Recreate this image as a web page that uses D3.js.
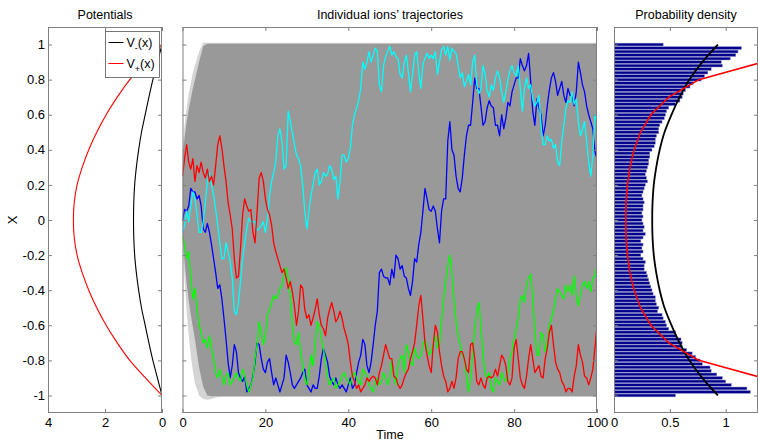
<!DOCTYPE html>
<html><head><meta charset="utf-8">
<script src="https://cdn.jsdelivr.net/npm/d3@7"></script>
<style>
body{margin:0;background:#fff}
svg text{font-family:Arial,"Liberation Sans",Helvetica,sans-serif;fill:#000}
</style>
</head><body>
<svg id="chart" width="758" height="442"></svg>
<script>
// ---------------- DATA ----------------
const yTicks = [-1,-0.8,-0.6,-0.4,-0.2,0,0.2,0.4,0.6,0.8,1];
const yTickLabels = ["-1","-0.8","-0.6","-0.4","-0.2","0","0.2","0.4","0.6","0.8","1"];
const potTicks = [4,2,0];
const potTickLabels = ["4","2","0"];
const timeTicks = [0,20,40,60,80,100];
const timeTickLabels = ["0","20","40","60","80","100"];
const densTicks = [0,0.5,1];
const densTickLabels = ["0","0.5","1"];

// Potentials panel
const potX = [-1,-0.9,-0.8,-0.7,-0.6,-0.5,-0.4,-0.3,-0.2,-0.1,0,0.1,0.2,0.3,0.4,0.5,0.6,0.7,0.8,0.9,1];
const vMinus = [0,0.16,0.32,0.46,0.59,0.72,0.82,0.90,0.96,0.99,1.0,0.99,0.96,0.90,0.82,0.72,0.59,0.46,0.32,0.16,0];
const vPlus  = [0,0.58,1.13,1.57,1.96,2.29,2.57,2.80,2.98,3.08,3.11,3.08,2.98,2.80,2.57,2.29,1.96,1.57,1.13,0.58,0];

// Trajectory cloud envelope (gray ensemble)
const cloudTime = [0,0.5,1,1.5,2,2.5,3,4,5,6,7,8,10,100];
const darkTop  = [0.36,0.47,0.56,0.63,0.69,0.75,0.80,0.90,0.99,1.005,1.005,1.005,1.005,1.005];
const darkBot  = [-0.08,-0.24,-0.36,-0.46,-0.54,-0.61,-0.68,-0.84,-0.95,-1.0,-1.005,-1.005,-1.005,-1.005];
const lightTop = [0.40,0.54,0.64,0.72,0.78,0.84,0.88,0.96,1.012,1.01,1.01,1.01,1.01,1.01];
const lightBot = [-0.12,-0.34,-0.52,-0.66,-0.77,-0.86,-0.93,-1.0,-1.02,-1.025,-1.02,-1.012,-1.008,-1.008];

// Individual trajectories, sampled every 0.5 time units, t = 0..100
const trajTime = d3.range(0, 100.001, 0.5);
const trajRed = [
0.25,0.35,0.43,0.33,0.29,0.35,0.22,0.31,0.27,0.33,0.27,0.24,0.29,0.22,0.25,0.20,0.31,0.43,0.48,0.41,
0.31,0.22,0.10,0.03,-0.05,-0.22,-0.33,-0.32,-0.16,0.03,0.12,0.08,0.05,0.06,-0.07,-0.13,0.05,0.24,0.27,0.22,
0.12,0.06,0.03,-0.03,-0.13,-0.18,-0.22,-0.26,-0.30,-0.28,-0.33,-0.39,-0.35,-0.41,-0.49,-0.60,-0.52,-0.37,-0.39,-0.51,
-0.56,-0.54,-0.60,-0.56,-0.51,-0.45,-0.54,-0.60,-0.62,-0.66,-0.56,-0.51,-0.47,-0.52,-0.58,-0.56,-0.52,-0.56,-0.62,-0.66,
-0.71,-0.81,-0.89,-0.92,-0.96,-0.94,-0.98,-0.96,-0.94,-0.90,-0.92,-0.90,-0.89,-0.90,-0.94,-0.87,-0.83,-0.77,-0.71,-0.75,
-0.79,-0.79,-0.89,-0.90,-0.94,-0.96,-0.94,-0.90,-0.87,-0.85,-0.79,-0.75,-0.70,-0.60,-0.49,-0.43,-0.56,-0.70,-0.77,-0.83,
-0.87,-0.71,-0.60,-0.64,-0.75,-0.83,-0.89,-0.92,-0.98,-0.96,-0.92,-0.96,-0.90,-0.79,-0.75,-0.75,-0.79,-0.85,-0.87,-0.71,
-0.70,-0.79,-0.92,-0.94,-0.90,-0.94,-0.96,-0.90,-0.89,-0.90,-0.89,-0.85,-0.89,-0.83,-0.77,-0.79,-0.83,-0.92,-0.94,-0.90,
-0.73,-0.68,-0.79,-0.90,-0.94,-0.96,-0.89,-0.79,-0.71,-0.79,-0.87,-0.85,-0.83,-0.89,-0.90,-0.79,-0.73,-0.64,-0.60,-0.71,
-0.81,-0.85,-0.87,-0.92,-0.94,-0.98,-0.96,-0.96,-0.98,-0.89,-0.83,-0.71,-0.77,-0.81,-0.89,-0.90,-0.94,-0.90,-0.85,-0.73,
-0.60];
const trajBlue = [
0.00,0.06,0.05,0.08,0.18,0.16,0.16,0.12,0.14,0.08,-0.05,-0.07,-0.02,-0.07,-0.14,-0.22,-0.30,-0.39,-0.37,-0.45,
-0.56,-0.68,-0.81,-0.90,-0.83,-0.71,-0.75,-0.87,-0.90,-0.92,-0.89,-0.98,-0.96,-0.94,-0.89,-0.81,-0.70,-0.71,-0.79,-0.85,
-0.87,-0.81,-0.79,-0.87,-0.94,-0.90,-0.94,-0.98,-0.94,-0.90,-0.77,-0.81,-0.87,-0.94,-0.96,-0.94,-0.92,-0.90,-0.87,-0.85,
-0.94,-0.96,-0.98,-0.94,-0.96,-0.96,-0.89,-0.79,-0.73,-0.77,-0.81,-0.89,-0.92,-0.94,-0.90,-0.94,-0.96,-0.94,-0.96,-0.98,
-0.94,-0.90,-0.96,-0.94,-0.87,-0.81,-0.77,-0.68,-0.71,-0.83,-0.87,-0.81,-0.71,-0.60,-0.52,-0.30,-0.28,-0.32,-0.33,-0.33,
-0.37,-0.28,-0.33,-0.20,-0.22,-0.28,-0.26,-0.32,-0.33,-0.39,-0.43,-0.35,-0.22,-0.24,-0.14,-0.07,0.05,0.18,0.12,0.06,
0.05,0.08,0.05,-0.05,-0.13,0.05,0.12,0.12,0.45,0.56,0.40,0.37,0.25,0.18,0.16,0.24,0.37,0.48,0.54,0.54,
0.67,0.81,0.75,0.75,0.65,0.54,0.56,0.64,0.68,0.65,0.64,0.54,0.54,0.48,0.60,0.52,0.58,0.67,0.65,0.73,
0.77,0.81,0.81,0.92,0.88,0.85,0.88,0.95,0.79,0.62,0.54,0.69,0.64,0.60,0.48,0.54,0.65,0.74,0.81,0.84,
0.79,0.71,0.75,0.79,0.71,0.67,0.75,0.71,0.71,0.65,0.73,0.90,0.84,0.77,0.73,0.65,0.60,0.56,0.52,0.39,
0.35];
const trajCyan = [
-0.07,-0.03,0.05,-0.01,0.08,0.16,0.12,0.03,-0.07,-0.07,-0.01,0.10,0.22,0.27,0.20,0.14,0.06,-0.03,-0.13,-0.22,
-0.22,-0.13,-0.18,-0.24,-0.33,-0.52,-0.54,-0.47,-0.35,-0.22,-0.13,-0.05,0.01,-0.01,-0.01,-0.01,-0.06,-0.05,-0.03,-0.01,
-0.07,0.01,0.14,0.22,0.27,0.33,0.48,0.52,0.45,0.29,0.31,0.62,0.56,0.50,0.43,0.37,0.35,0.31,0.20,0.05,
-0.05,0.05,0.14,0.20,0.27,0.29,0.20,0.22,0.27,0.25,0.26,0.31,0.29,0.23,0.25,0.12,0.22,0.37,0.37,0.33,
0.35,0.41,0.54,0.60,0.64,0.68,0.75,0.90,0.86,0.90,0.96,0.90,0.94,0.98,0.96,0.77,0.73,0.88,0.93,0.96,
0.99,0.94,0.96,0.93,0.92,0.83,0.81,0.90,0.94,0.84,0.73,0.83,0.94,0.96,0.84,0.75,0.89,0.92,0.95,0.92,
0.94,0.92,0.96,0.83,0.90,0.97,0.99,0.94,0.99,0.91,0.98,0.96,0.95,0.88,0.81,0.84,0.76,0.79,0.83,0.77,
0.90,0.94,0.77,0.72,0.75,0.88,0.83,0.74,0.70,0.77,0.74,0.81,0.85,0.81,0.73,0.67,0.73,0.80,0.85,0.88,
0.84,0.82,0.88,0.75,0.62,0.75,0.81,0.75,0.77,0.69,0.65,0.67,0.71,0.54,0.43,0.43,0.48,0.45,0.46,0.41,
0.43,0.33,0.31,0.45,0.54,0.64,0.68,0.67,0.73,0.66,0.69,0.56,0.48,0.52,0.56,0.45,0.33,0.25,0.37,0.60,
0.56];
const trajGreen = [
-0.09,-0.14,-0.22,-0.18,-0.33,-0.45,-0.39,-0.51,-0.60,-0.64,-0.70,-0.68,-0.73,-0.66,-0.73,-0.79,-0.87,-0.90,-0.85,-0.89,
-0.94,-0.89,-0.87,-0.94,-0.92,-0.90,-0.87,-0.90,-0.92,-0.85,-0.89,-0.94,-0.98,-0.94,-0.90,-0.79,-0.71,-0.58,-0.64,-0.71,
-0.66,-0.54,-0.51,-0.47,-0.43,-0.45,-0.43,-0.39,-0.37,-0.32,-0.27,-0.33,-0.43,-0.60,-0.70,-0.71,-0.64,-0.75,-0.83,-0.90,
-0.94,-0.87,-0.77,-0.83,-0.71,-0.58,-0.60,-0.68,-0.73,-0.81,-0.90,-0.94,-0.92,-0.90,-0.96,-0.94,-0.92,-0.89,-0.87,-0.90,
-0.92,-0.94,-0.89,-0.87,-0.90,-0.92,-0.94,-0.85,-0.87,-0.89,-0.94,-0.96,-0.98,-0.92,-0.90,-0.94,-0.92,-0.87,-0.90,-0.94,
-0.90,-0.79,-0.89,-0.94,-0.83,-0.79,-0.77,-0.87,-0.71,-0.75,-0.81,-0.83,-0.73,-0.77,-0.79,-0.77,-0.71,-0.68,-0.73,-0.77,
-0.75,-0.70,-0.66,-0.73,-0.71,-0.58,-0.45,-0.35,-0.26,-0.20,-0.30,-0.45,-0.58,-0.66,-0.71,-0.77,-0.79,-0.89,-0.98,-0.90,
-0.77,-0.62,-0.52,-0.47,-0.60,-0.77,-0.87,-0.90,-0.87,-0.96,-0.98,-0.90,-0.92,-0.94,-0.87,-0.90,-0.92,-0.87,-0.79,-0.75,
-0.68,-0.62,-0.56,-0.45,-0.43,-0.47,-0.37,-0.33,-0.31,-0.43,-0.64,-0.77,-0.77,-0.64,-0.66,-0.75,-0.70,-0.60,-0.56,-0.52,
-0.45,-0.39,-0.41,-0.43,-0.45,-0.37,-0.41,-0.37,-0.43,-0.32,-0.43,-0.49,-0.43,-0.37,-0.35,-0.39,-0.35,-0.41,-0.33,-0.32,
-0.26];

// Probability density histogram (bins from x = 1 down to x = -1, step 0.02)
const histCenters = d3.range(101).map(i => +(1 - i*0.02).toFixed(2));
const histValues = [
0.44,1.14,1.11,1.09,1.04,0.96,0.97,0.87,0.84,0.81,0.78,0.71,0.68,0.64,0.62,0.61,0.59,0.55,0.49,0.47,
0.46,0.45,0.43,0.41,0.40,0.40,0.38,0.37,0.37,0.36,0.34,0.32,0.32,0.31,0.31,
0.30,0.29,0.28,0.29,0.30,0.28,0.27,0.26,0.25,0.26,0.27,0.26,0.26,0.25,0.26,0.25,0.26,0.27,0.26,0.28,
0.26,0.24,0.26,0.25,0.26,0.24,0.26,0.28,0.27,0.27,
0.29,0.30,0.31,0.32,0.33,0.34,0.35,0.37,0.37,0.38,0.40,0.39,0.43,0.44,0.46,0.47,0.49,0.55,0.56,0.60,
0.61,0.61,0.65,0.70,0.73,0.77,0.79,0.86,0.87,0.92,0.97,1.00,1.05,1.19,1.22,0.55];
const densX = potX;
const densBlack = [0.93,0.79,0.675,0.587,0.515,0.452,0.409,0.378,0.356,0.345,0.342,0.345,0.356,0.378,0.409,0.452,0.515,0.587,0.675,0.79,0.93];
const densRed   = [2.36,1.33,0.76,0.49,0.33,0.237,0.18,0.143,0.12,0.108,0.105,0.108,0.12,0.143,0.18,0.237,0.33,0.49,0.76,1.33,2.36];

// ---------------- LAYOUT ----------------
const svg = d3.select("#chart");
const TOP = 27, BOT = 413;
const axisColor = "#808080";
const y = d3.scaleLinear().domain([-1.1, 1.1]).range([BOT, TOP]);
const xPot = d3.scaleLinear().domain([4, 0]).range([48, 162]);
const xT = d3.scaleLinear().domain([0, 100]).range([182.5, 597]);
const xD = d3.scaleLinear().domain([0, 1.289]).range([614, 758]);

const defs = svg.append("defs");
function clip(id, xs){
  defs.append("clipPath").attr("id", id).append("rect")
    .attr("x", xs.range()[0]).attr("y", TOP)
    .attr("width", xs.range()[1]-xs.range()[0]).attr("height", BOT-TOP);
  return "url(#"+id+")";
}

function frame(xs, xt, xl, showY){
  const g = svg.append("g");
  const x0 = xs.range()[0], x1 = xs.range()[1];
  const fmtY = d => showY ? yTickLabels[yTicks.indexOf(d)] : "";
  const fmtX = d => xl[xt.indexOf(d)];
  g.append("g").attr("transform", `translate(${x0},0)`)
    .call(d3.axisLeft(y).tickValues(yTicks).tickSizeInner(-4).tickSizeOuter(0).tickPadding(3).tickFormat(fmtY));
  g.append("g").attr("transform", `translate(${x1},0)`)
    .call(d3.axisRight(y).tickValues(yTicks).tickSizeInner(-4).tickSizeOuter(0).tickFormat(""));
  g.append("g").attr("transform", `translate(0,${BOT})`)
    .call(d3.axisBottom(xs).tickValues(xt).tickSizeInner(-4).tickSizeOuter(0).tickPadding(5).tickFormat(fmtX));
  g.append("g").attr("transform", `translate(0,${TOP})`)
    .call(d3.axisTop(xs).tickValues(xt).tickSizeInner(-4).tickSizeOuter(0).tickFormat(""));
  g.selectAll(".domain").remove();
  g.selectAll(".tick line").attr("stroke", axisColor);
  g.selectAll(".tick text").attr("font-size", 13).attr("fill", "#000")
    .attr("font-family", "Arial, 'Liberation Sans', sans-serif");
  g.append("rect").attr("x", x0+0.5).attr("y", TOP+0.5)
    .attr("width", x1-x0-1).attr("height", BOT-TOP-1)
    .attr("fill", "none").attr("stroke", axisColor).attr("stroke-width", 1);
  return g;
}

// ---------- Left panel: Potentials ----------
const cPot = clip("cpot", xPot);
const potG = svg.append("g").attr("clip-path", cPot);
const potLine = arr => d3.line().x((d,i)=>xPot(arr[i])).y(d=>y(d)).curve(d3.curveCatmullRom)(potX);
potG.append("path").attr("d", potLine(vPlus)).attr("fill","none").attr("stroke","#ff0000").attr("stroke-width",1.1);
potG.append("path").attr("d", potLine(vMinus)).attr("fill","none").attr("stroke","#000").attr("stroke-width",1.1);
frame(xPot, potTicks, potTickLabels, true);

// legend
const leg = svg.append("g");
leg.append("rect").attr("x",105.5).attr("y",31.5).attr("width",54).attr("height",46)
  .attr("fill","#fff").attr("stroke","#555").attr("stroke-width",0.8);
const legItems = [{sub:"-", color:"#000", yy:42.5},{sub:"+", color:"#ff0000", yy:63.5}];
legItems.forEach(it=>{
  leg.append("line").attr("x1",108.5).attr("x2",123.5).attr("y1",it.yy).attr("y2",it.yy)
    .attr("stroke",it.color).attr("stroke-width",1);
  const t = leg.append("text").attr("x",126.5).attr("y",it.yy+4.5).attr("font-size",12.5);
  t.append("tspan").text("V");
  t.append("tspan").attr("dy",4).attr("font-size",9).text(it.sub);
  t.append("tspan").attr("dy",-4).attr("font-size",12.5).text("(x)");
});

// ---------- Middle panel: trajectories ----------
const cT = clip("ctraj", xT);
const tG = svg.append("g").attr("clip-path", cT);
const envArea = (topArr, botArr) => d3.area()
  .x((d,i)=>xT(cloudTime[i])).y0((d,i)=>y(botArr[i])).y1((d,i)=>y(topArr[i]))(cloudTime);
tG.append("path").attr("d", envArea(lightTop, lightBot)).attr("fill","#d4d4d4");
tG.append("path").attr("d", envArea(darkTop, darkBot)).attr("fill","#999999");
const trajLine = arr => d3.line().x((d,i)=>xT(trajTime[i])).y((d,i)=>y(arr[i]))(trajTime);
[[trajBlue,"#0000ff"],[trajCyan,"#00ffff"],[trajGreen,"#00ff00"],[trajRed,"#ff0000"]].forEach(([arr,col])=>{
  tG.append("path").attr("d", trajLine(arr)).attr("fill","none").attr("stroke",col)
    .attr("stroke-width",1.3).attr("stroke-linejoin","round");
});
frame(xT, timeTicks, timeTickLabels, false);

// ---------- Right panel: probability density ----------
const cD = clip("cdens", xD);
const dG = svg.append("g").attr("clip-path", cD);
const pitch = Math.abs(y(0.02) - y(0));
dG.selectAll("rect.bar").data(histValues).enter().append("rect")
  .attr("class","bar")
  .attr("x", xD(0))
  .attr("y", (d,i)=> y(histCenters[i]) - pitch*0.4)
  .attr("width", d => xD(d) - xD(0))
  .attr("height", pitch*0.8)
  .attr("fill", "#00008c")
  .attr("stroke", "#8c8cc8").attr("stroke-width", 0.5);
dG.append("path").attr("d", d3.line().x((d,i)=>xD(densBlack[i])).y(d=>y(d)).curve(d3.curveCatmullRom)(densX))
  .attr("fill","none").attr("stroke","#000").attr("stroke-width",1.8);
dG.append("path").attr("d", d3.line().x((d,i)=>xD(densRed[i])).y(d=>y(d))(densX))
  .attr("fill","none").attr("stroke","#ff0000").attr("stroke-width",1.6);
frame(xD, densTicks, densTickLabels, false);

// ---------- Titles & labels ----------
const titles = [["Potentials",105],["Individual ions\u2019 trajectories",390],["Probability density",686]];
titles.forEach(([txt,cx])=>{
  svg.append("text").attr("x",cx).attr("y",18.5).attr("text-anchor","middle").attr("font-size",12.5).text(txt);
});
svg.append("text").attr("x",390).attr("y",439).attr("text-anchor","middle").attr("font-size",12.5).text("Time");
svg.append("text").attr("transform","translate(17,220) rotate(-90)").attr("text-anchor","middle")
  .attr("font-size",13).text("X");
</script>
</body></html>
